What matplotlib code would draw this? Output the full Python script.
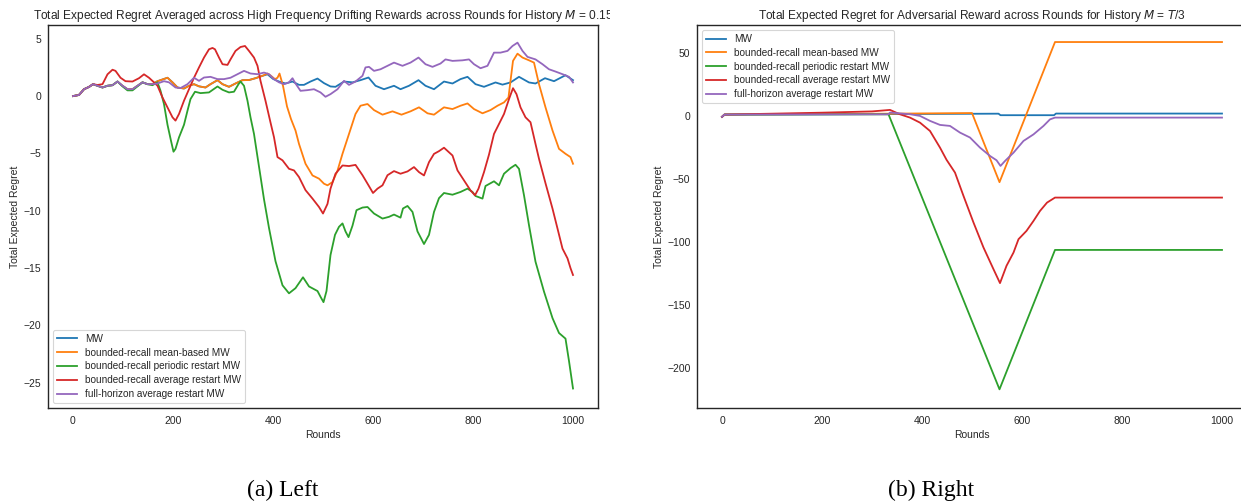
import numpy as np
import matplotlib
matplotlib.use("Agg")
import matplotlib.pyplot as plt
from matplotlib.patches import Rectangle

# ===== labels =====
SERIES = ["MW", "bounded-recall mean-based MW", "bounded-recall periodic restart MW",
          "bounded-recall average restart MW", "full-horizon average restart MW"]
COLORS = ["#1f77b4", "#ff7f0e", "#2ca02c", "#d62728", "#9467bd"]
TITLE_L = "Total Expected Regret Averaged across High Frequency Drifting Rewards across Rounds for History $M$ = 0.15"
TITLE_R = "Total Expected Regret for Adversarial Reward across Rounds for History $M$ = $T$/3"
CAPTIONS = ["(a) Left", "(b) Right"]
XTICKS = [0, 200, 400, 600, 800, 1000]
YTICKS_L = [5, 0, -5, -10, -15, -20, -25]
YTICKS_R = [50, 0, -50, -100, -150, -200]

# ===== left panel: drifting rewards =====
mw_l_x = [0, 12, 22, 32, 40, 49, 59, 69, 79, 89, 99, 109, 119, 129, 139, 149, 159, 169, 189, 199,
          209, 222, 232, 242, 252, 265, 275, 289, 299, 312, 325, 339, 352, 365, 379, 389, 400, 412,
          425, 439, 452, 462, 475, 489, 502, 515, 525, 542, 559, 575, 591, 605, 622, 642, 655, 672,
          691, 705, 722, 742, 759, 775, 789, 805, 822, 845, 859, 875, 892, 912, 925, 944, 962, 985, 1000]
mw_l_y = [0.0, 0.1, 0.6, 0.8, 1.04, 0.9, 0.75, 0.9, 0.95, 1.27, 0.9, 0.6, 0.6, 0.9, 1.2, 1.04, 1.04, 1.3, 1.6, 1.2,
          0.75, 0.66, 0.9, 1.04, 0.85, 0.75, 1.04, 1.39, 1.04, 0.81, 1.1, 1.39, 1.4, 1.56, 1.77, 1.9, 1.5, 1.27,
          1.1, 1.27, 0.98, 0.98, 1.27, 1.53, 1.13, 0.84, 0.81, 1.27, 1.2, 1.39, 1.62, 0.9, 0.6, 0.9, 0.6, 0.9,
          1.39, 0.9, 0.6, 1.27, 1.1, 1.48, 1.68, 1.04, 0.81, 1.19, 1.0, 1.19, 1.68, 1.19, 1.1, 1.56, 1.3, 1.82, 1.39]

mean_l_x = [0, 12, 22, 32, 40, 49, 59, 69, 79, 89, 99, 109, 119, 129, 139, 149, 159, 169, 189, 199,
            209, 222, 232, 242, 252, 265, 275, 289, 299, 312, 325, 339, 352, 365, 379, 389, 395, 404,
            409, 413, 420, 428, 436, 445, 452, 465, 479, 492, 502, 509, 519, 529, 539, 552, 565, 575,
            589, 602, 619, 639, 657, 675, 692, 709, 722, 742, 759, 775, 789, 802, 819, 835, 849, 862,
            871, 875, 880, 889, 899, 912, 922, 932, 945, 959, 972, 985, 995, 1000]
mean_l_y = [0.0, 0.1, 0.6, 0.8, 1.04, 0.9, 0.75, 0.9, 0.95, 1.27, 0.9, 0.6, 0.6, 0.9, 1.2, 1.04, 1.04, 1.3, 1.6, 1.2,
            0.75, 0.66, 0.9, 1.04, 0.85, 0.75, 1.04, 1.39, 1.04, 0.81, 1.1, 1.39, 1.4, 1.56, 1.77, 1.97, 1.8, 1.48,
            1.6, 1.97, 0.9, -0.9, -2.0, -3.0, -4.17, -5.9, -6.92, -7.2, -7.64, -7.78, -7.5, -6.5, -5.03, -3.3, -1.56, -0.84,
            -0.69, -1.22, -1.62, -1.33, -1.62, -1.33, -0.98, -1.5, -1.62, -0.98, -1.13, -0.84, -0.64, -1.13, -1.5, -1.22, -0.84, -0.55,
            -0.12, 1.33, 3.07, 3.7, 3.36, 3.12, 2.92, 1.04, -0.98, -3.0, -4.6, -5.03, -5.32, -5.9]

periodic_l_x = [0, 12, 22, 32, 40, 49, 59, 69, 79, 89, 99, 109, 119, 129, 139, 149, 159, 169, 175, 182,
                189, 196, 201, 205, 212, 222, 229, 235, 244, 255, 272, 289, 299, 312, 322, 331, 335, 342,
                349, 355, 362, 369, 375, 382, 392, 405, 419, 432, 445, 460, 472, 489, 495, 501, 507, 515,
                524, 532, 539, 545, 551, 559, 567, 579, 589, 602, 619, 632, 642, 655, 660, 669, 679, 689,
                702, 712, 722, 732, 742, 759, 775, 789, 799, 805, 819, 825, 842, 852, 862, 875, 885, 892,
                902, 912, 925, 942, 959, 972, 985, 992, 1000]
periodic_l_y = [0.0, 0.1, 0.6, 0.8, 1.04, 0.9, 0.75, 0.9, 0.95, 1.27, 0.85, 0.5, 0.5, 0.85, 1.2, 1.04, 0.95, 1.2, 0.47, -0.7,
                -2.5, -3.9, -4.85, -4.6, -3.6, -2.5, -1.27, -0.26, 0.38, 0.26, 0.32, 0.84, 0.55, 0.32, 0.38, 1.04, 1.27, 0.9,
                -0.41, -1.85, -3.3, -5.3, -7.0, -9.0, -11.5, -14.4, -16.5, -17.2, -16.75, -15.8, -16.6, -17.0, -17.5, -17.97, -17.0, -13.86,
                -12.1, -11.4, -11.1, -11.8, -12.3, -11.3, -9.95, -9.72, -9.67, -10.24, -10.68, -10.53, -10.33, -10.6, -9.8, -9.58, -10.1, -11.8,
                -12.9, -12.1, -10.1, -8.9, -8.45, -8.6, -8.36, -8.07, -8.36, -8.71, -8.94, -7.84, -7.43, -7.78, -6.77, -6.28, -5.99, -6.34,
                -8.65, -11.26, -14.44, -17.05, -19.36, -20.66, -21.15, -23.1, -25.5]

avg_l_x = [0, 12, 22, 32, 40, 49, 59, 69, 79, 85, 95, 105, 119, 132, 142, 152, 162, 169, 179, 189,
           199, 205, 212, 222, 232, 242, 252, 262, 272, 279, 284, 292, 299, 309, 315, 325, 335, 344,
           352, 362, 369, 375, 385, 395, 402, 409, 419, 432, 442, 452, 465, 479, 492, 500, 509, 515,
           525, 539, 552, 565, 579, 591, 600, 609, 619, 629, 642, 655, 669, 682, 692, 702, 712, 722,
           732, 742, 759, 769, 782, 795, 804, 811, 822, 832, 842, 852, 862, 872, 880, 887, 895, 905,
           915, 925, 932, 945, 959, 969, 979, 989, 995, 1000]
avg_l_y = [0.0, 0.1, 0.6, 0.8, 1.04, 0.97, 1.04, 1.9, 2.3, 2.2, 1.6, 1.3, 1.27, 1.56, 1.9, 1.6, 1.2, 0.9, -0.12, -0.99,
           -1.85, -2.14, -1.56, -0.4, 0.6, 1.6, 2.5, 3.36, 4.08, 4.2, 4.08, 3.36, 2.78, 2.72, 3.2, 3.94, 4.28, 4.37,
           3.94, 3.36, 2.64, 1.33, -0.41, -2.3, -3.59, -5.32, -5.6, -6.34, -6.48, -7.06, -8.2, -8.94, -9.67, -10.24, -9.4, -8.07,
           -6.77, -6.05, -6.1, -6.0, -6.9, -7.78, -8.45, -8.07, -7.78, -6.9, -6.54, -6.77, -6.57, -6.19, -6.63, -6.92, -5.76, -5.04,
           -4.8, -4.5, -5.18, -6.48, -7.35, -8.22, -8.65, -8.07, -6.63, -5.1, -3.3, -2.43, -1.56, -0.26, 0.69, 0.17, -0.98, -1.85,
           -2.28, -4.17, -5.47, -7.6, -9.81, -11.55, -13.3, -14.15, -15.0, -15.6]

full_l_x = [0, 12, 22, 32, 40, 49, 59, 69, 79, 89, 99, 109, 119, 129, 139, 149, 159, 169, 182, 192,
            205, 215, 229, 242, 252, 262, 275, 289, 302, 315, 329, 342, 355, 369, 382, 392, 402, 412,
            422, 432, 439, 445, 455, 469, 482, 495, 505, 515, 529, 542, 552, 565, 579, 585, 592, 602,
            615, 629, 642, 659, 675, 691, 705, 719, 735, 745, 759, 779, 792, 802, 815, 829, 842, 855,
            869, 879, 889, 899, 909, 925, 939, 952, 965, 979, 992, 1000]
full_l_y = [0.0, 0.1, 0.6, 0.8, 1.04, 0.9, 0.75, 0.9, 0.95, 1.27, 0.9, 0.6, 0.6, 0.9, 1.2, 1.04, 1.04, 1.1, 1.3, 1.2,
            0.75, 0.7, 1.04, 1.6, 1.33, 1.62, 1.68, 1.48, 1.48, 1.6, 1.91, 2.2, 1.97, 1.91, 2.05, 1.91, 1.48, 1.2,
            1.04, 1.2, 1.56, 1.1, 0.46, 0.52, 0.6, 0.32, -0.06, 0.17, 0.6, 1.33, 0.98, 1.27, 1.77, 2.5, 2.55, 2.2,
            2.34, 2.64, 2.92, 2.64, 2.92, 3.36, 2.78, 2.55, 2.84, 3.2, 3.07, 3.12, 3.2, 2.78, 2.43, 2.64, 3.79, 3.79,
            3.94, 4.37, 4.66, 3.94, 3.42, 3.2, 2.78, 2.34, 2.14, 1.91, 1.68, 1.19]

# ===== right panel: adversarial reward =====
mw_r_x = [0, 5, 333, 553, 557, 664, 668, 1000]
mw_r_y = [-1.0, 0.8, 1.2, 1.5, 0.3, 0.3, 1.6, 1.6]
mean_r_x = [0, 5, 333, 500, 555, 666, 1000]
mean_r_y = [-1.0, 0.8, 1.5, 2.0, -52.8, 58.3, 58.3]
periodic_r_x = [0, 5, 333, 555, 666, 1000]
periodic_r_y = [-1.0, 0.8, 1.0, -217.0, -106.5, -106.5]
avg_r_x = [0, 5, 100, 200, 300, 336, 356, 376, 396, 416, 436, 449, 466, 483, 503, 523, 543, 556,
           569, 583, 593, 609, 623, 636, 650, 666, 1000]
avg_r_y = [-1.0, 0.8, 1.5, 2.3, 3.3, 4.5, 1.0, -1.6, -5.6, -12.2, -25.4, -35.0, -45.2, -63.7, -84.8, -104.6, -121.8, -132.8,
           -119.1, -108.6, -98.0, -91.4, -83.5, -75.6, -69.0, -65.0, -65.0]
full_r_x = [0, 5, 333, 336, 376, 396, 416, 436, 456, 476, 496, 516, 536, 549, 557, 566, 583, 603,
            623, 643, 656, 666, 1000]
full_r_y = [-1.0, 0.8, 1.0, 2.4, 1.06, -0.26, -4.2, -7.4, -8.2, -13.5, -17.4, -25.4, -32.0, -35.4, -39.9, -36.0, -29.4, -20.1,
            -14.9, -8.2, -3.0, -1.6, -1.6]

LEFT = [(mw_l_x, mw_l_y), (mean_l_x, mean_l_y), (periodic_l_x, periodic_l_y),
        (avg_l_x, avg_l_y), (full_l_x, full_l_y)]
RIGHT = [(mw_r_x, mw_r_y), (mean_r_x, mean_r_y), (periodic_r_x, periodic_r_y),
         (avg_r_x, avg_r_y), (full_r_x, full_r_y)]

plt.rcParams["font.family"] = ["Liberation Sans", "DejaVu Sans"]
plt.rcParams["mathtext.fontset"] = "dejavusans"
TXT = "#262626"
W, H = 1241, 501

fig = plt.figure(figsize=(W / 100, H / 100), dpi=100)


def px_box(x0, y0, x1, y1):
    # pixel box (top-left origin) -> figure fraction [l, b, w, h]
    return [x0 / W, 1 - y1 / H, (x1 - x0) / W, (y1 - y0) / H]


def style(ax, yticks, legend_loc):
    ax.set_xticks(XTICKS)
    ax.set_yticks(yticks)
    ax.tick_params(length=0, labelsize=7.5, labelcolor=TXT)
    ax.tick_params(axis="x", pad=6)
    ax.tick_params(axis="y", pad=4.7)
    for s in ax.spines.values():
        s.set_color(TXT)
        s.set_linewidth(1.0)
    ax.set_xlabel("Rounds", fontsize=7.5, color=TXT, labelpad=3)
    ax.set_ylabel("Total Expected Regret", fontsize=7.5, color=TXT, labelpad=2.5)
    leg = ax.legend(loc=legend_loc, fontsize=7.2, frameon=True, fancybox=True,
                    borderpad=0.4, labelspacing=0.38, handlelength=2.0)
    leg.get_frame().set_edgecolor("#cccccc")
    leg.get_frame().set_linewidth(0.8)
    for t in leg.get_texts():
        t.set_color(TXT)


axL = fig.add_axes(px_box(48, 25, 598, 408))
for (x, y), name, c in zip(LEFT, SERIES, COLORS):
    axL.plot(x, y, color=c, lw=1.3, label=name)
axL.set_xlim(-50, 1050)
axL.set_ylim(-27.2, 6.2)
style(axL, YTICKS_L, "lower left")
axL.set_title(TITLE_L, fontsize=8.55, color=TXT, pad=4.5)
# left sub-image is cropped just past the plot, cutting the title end
fig.patches.append(Rectangle((610 / W, 1 - 24 / H), 40 / W, 24 / H, transform=fig.transFigure,
                             facecolor="white", edgecolor="none", zorder=10))

axR = fig.add_axes(px_box(697, 25, 1247, 408))
for (x, y), name, c in zip(RIGHT, SERIES, COLORS):
    axR.plot(x, y, color=c, lw=1.3, label=name)
axR.set_xlim(-50, 1050)
axR.set_ylim(-231.8, 71.8)
style(axR, YTICKS_R, "upper left")
axR.set_title(TITLE_R, fontsize=8.55, color=TXT, pad=4.5)

fig.text(283 / W, 1 - 490 / H, CAPTIONS[0], ha="center", va="center",
         fontsize=17, family="Liberation Serif", color="black")
fig.text(931 / W, 1 - 490 / H, CAPTIONS[1], ha="center", va="center",
         fontsize=17, family="Liberation Serif", color="black")

fig.savefig("out.png", dpi=100)
